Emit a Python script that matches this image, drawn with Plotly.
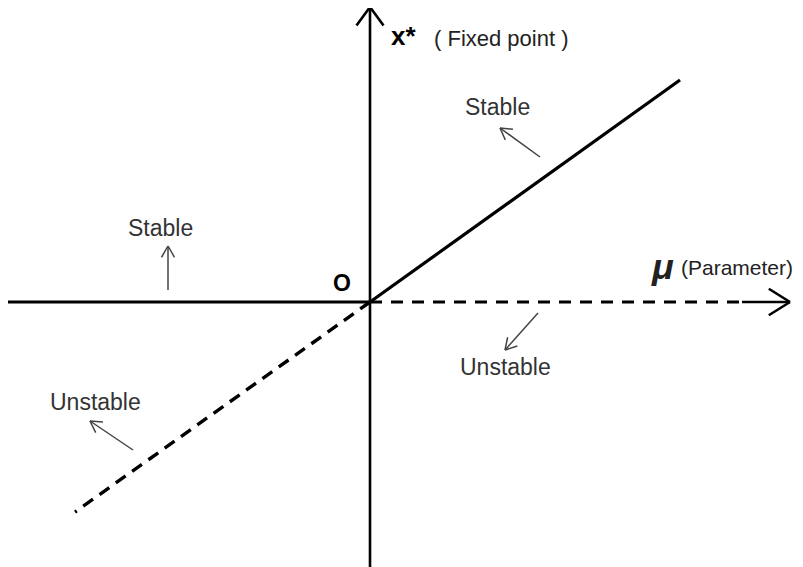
import math
import plotly.graph_objects as go

# ---- data (mu = parameter, x* = fixed point) ----
stable_zero_mu = [-3.62, 0.0]
stable_zero_x = [0.0, 0.0]
unstable_zero_mu = [0.0, 3.72]
unstable_zero_x = [0.0, 0.0]
stable_diag_mu = [0.0, 3.10]
stable_diag_x = [0.0, 2.22]
unstable_diag_mu = [0.0, -2.95]
unstable_diag_x = [0.0, -2.10]

# axes (tail -> tip)
mu_axis_tail = (3.72, 0.0)
mu_axis_tip = (4.20, 0.0)
x_axis_tail = (0.0, -2.73)
x_axis_tip = (0.0, 2.95)

# labels
label_text = ["Stable", "Stable", "Unstable", "Unstable"]
label_mu = [-2.10, 1.27, 1.35, -2.75]
label_x = [0.74, 1.95, -0.65, -1.00]

# small indicator arrows (tail, tip)
ind_tail_mu = [-2.02, 1.70, 1.68, -2.37]
ind_tail_x = [0.12, 1.45, -0.11, -1.48]
ind_tip_mu = [-2.02, 1.30, 1.35, -2.80]
ind_tip_x = [0.56, 1.74, -0.48, -1.19]

XR = [-3.62, 4.41]
YR = [-2.73, 2.94]

fig = go.Figure()

def line(xs, ys, width=3, dash="solid", color="black"):
    fig.add_trace(go.Scatter(x=xs, y=ys, mode="lines",
                             line=dict(color=color, width=width, dash=dash),
                             hoverinfo="skip", showlegend=False))

def head(tail, tip, length, ang=28, width=2, color="black"):
    dx, dy = tip[0] - tail[0], tip[1] - tail[1]
    n = math.hypot(dx, dy)
    ux, uy = dx / n, dy / n
    a = math.radians(ang)
    xs, ys = [], []
    for s in (1, -1):
        c, si = math.cos(s * a), math.sin(s * a)
        rx = ux * c - uy * si
        ry = ux * si + uy * c
        xs += [tip[0] - length * rx, tip[0], None]
        ys += [tip[1] - length * ry, tip[1], None]
    line(xs, ys, width=width, color=color)

# branches
line(stable_zero_mu, stable_zero_x, width=3)
line(unstable_zero_mu, unstable_zero_x, width=3, dash="12px,9px")
line(stable_diag_mu, stable_diag_x, width=3.2)
line(unstable_diag_mu, unstable_diag_x, width=3.4, dash="12px,8px")

# axes
line([mu_axis_tail[0], mu_axis_tip[0]], [mu_axis_tail[1], mu_axis_tip[1]], width=2.6)
head(mu_axis_tail, mu_axis_tip, 0.25, ang=32, width=2.6)
line([x_axis_tail[0], x_axis_tip[0]], [x_axis_tail[1], x_axis_tip[1]], width=2.6)
head(x_axis_tail, x_axis_tip, 0.23, ang=36, width=2.6)

# indicator arrows
for tm, tx, pm, px in zip(ind_tail_mu, ind_tail_x, ind_tip_mu, ind_tip_x):
    line([tm, pm], [tx, px], width=1.5, color="#444")
    head((tm, tx), (pm, px), 0.13, ang=30, width=1.5, color="#444")

font = "Liberation Sans, Arial, sans-serif"
for t, m, x in zip(label_text, label_mu, label_x):
    fig.add_annotation(x=m, y=x, text=t, showarrow=False,
                       font=dict(family=font, size=23, color="#333"))

fig.add_annotation(x=-0.28, y=0.19, text="<b>O</b>", showarrow=False,
                   font=dict(family=font, size=23, color="black"))
fig.add_annotation(x=0.33, y=2.66, text="<b>x*</b>", showarrow=False,
                   font=dict(family=font, size=26, color="black"))
fig.add_annotation(x=1.31, y=2.64, text="( Fixed point )", showarrow=False,
                   font=dict(family=font, size=22, color="#222"))
fig.add_annotation(x=2.92, y=0.36, text="<b><i>μ</i></b>", showarrow=False,
                   font=dict(family=font, size=36, color="#222"))
fig.add_annotation(x=3.67, y=0.35, text="(Parameter)", showarrow=False,
                   font=dict(family=font, size=21, color="#222"))

fig.update_layout(
    width=803, height=567,
    margin=dict(l=0, r=0, t=0, b=0),
    paper_bgcolor="white", plot_bgcolor="white",
    xaxis=dict(range=XR, visible=False, fixedrange=True),
    yaxis=dict(range=YR, visible=False, fixedrange=True),
)

fig.write_html("out.html")
